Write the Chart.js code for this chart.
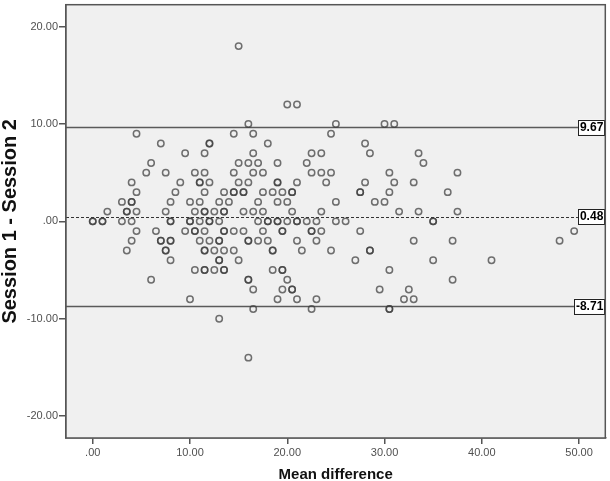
<!DOCTYPE html>
<html>
<head>
<meta charset="utf-8">
<script src="https://cdn.jsdelivr.net/npm/chart.js@4/dist/chart.umd.min.js"></script>
<style>
  html, body { margin: 0; padding: 0; background: #ffffff; }
  #wrap { width: 610px; height: 481px; position: relative; }
</style>
</head>
<body>
<div id="wrap"><canvas id="c" width="610" height="481"></canvas></div>
<script>
// ---- Data ----
const meanDifference = [
  15,
  20, 21,
  16, 25, 30, 31,
  4.5, 14.5, 16.5, 24.5,
  7, 12, 12, 18, 28,
  9.5, 11.5, 16.5, 22.5, 23.5, 28.5, 33.5,
  6, 15, 16, 17, 19, 22, 34,
  5.5, 7.5, 10.5, 11.5, 14.5, 16.5, 17.5, 22.5, 23.5, 24.5, 30.5, 37.5,
  4, 9, 11, 11, 12, 15, 16, 19, 19, 21, 24, 28, 31, 33,
  4.5, 8.5, 11.5, 13.5, 14.5, 14.5, 15.5, 15.5, 17.5, 18.5, 19.5, 20.5, 20.5, 27.5, 27.5, 30.5, 36.5,
  3, 4, 4, 8, 10, 11, 13, 14, 17, 19, 20, 25, 29, 30,
  1.5, 3.5, 3.5, 4.5, 7.5, 10.5, 11.5, 11.5, 12.5, 13.5, 13.5, 15.5, 16.5, 17.5, 20.5, 23.5, 31.5, 33.5, 37.5,
  0, 0, 1, 1, 3, 4, 8, 8, 10, 10, 11, 12, 12, 13, 17, 18, 18, 19, 19, 20, 21, 21, 22, 23, 25, 26, 35, 35,
  4.5, 6.5, 9.5, 10.5, 10.5, 11.5, 13.5, 13.5, 14.5, 15.5, 17.5, 19.5, 19.5, 22.5, 22.5, 23.5, 27.5, 49.5,
  4, 7, 7, 8, 8, 11, 12, 13, 13, 16, 16, 17, 18, 21, 23, 33, 37, 48,
  3.5, 7.5, 7.5, 11.5, 11.5, 12.5, 13.5, 14.5, 18.5, 18.5, 21.5, 24.5, 28.5, 28.5,
  8, 13, 13, 15, 27, 35, 41,
  10.5, 11.5, 11.5, 12.5, 13.5, 13.5, 18.5, 19.5, 19.5, 30.5,
  6, 16, 16, 20, 37,
  16.5, 19.5, 20.5, 20.5, 29.5, 32.5,
  10, 19, 21, 23, 32, 33,
  16.5, 22.5, 30.5, 30.5,
  13,
  16
];
const sessionDifference = [
  18,
  12, 12,
  10, 10, 10, 10,
  9, 9, 9, 9,
  8, 8, 8, 8, 8,
  7, 7, 7, 7, 7, 7, 7,
  6, 6, 6, 6, 6, 6, 6,
  5, 5, 5, 5, 5, 5, 5, 5, 5, 5, 5, 5,
  4, 4, 4, 4, 4, 4, 4, 4, 4, 4, 4, 4, 4, 4,
  3, 3, 3, 3, 3, 3, 3, 3, 3, 3, 3, 3, 3, 3, 3, 3, 3,
  2, 2, 2, 2, 2, 2, 2, 2, 2, 2, 2, 2, 2, 2,
  1, 1, 1, 1, 1, 1, 1, 1, 1, 1, 1, 1, 1, 1, 1, 1, 1, 1, 1,
  0, 0, 0, 0, 0, 0, 0, 0, 0, 0, 0, 0, 0, 0, 0, 0, 0, 0, 0, 0, 0, 0, 0, 0, 0, 0, 0, 0,
  -1, -1, -1, -1, -1, -1, -1, -1, -1, -1, -1, -1, -1, -1, -1, -1, -1, -1,
  -2, -2, -2, -2, -2, -2, -2, -2, -2, -2, -2, -2, -2, -2, -2, -2, -2, -2,
  -3, -3, -3, -3, -3, -3, -3, -3, -3, -3, -3, -3, -3, -3,
  -4, -4, -4, -4, -4, -4, -4,
  -5, -5, -5, -5, -5, -5, -5, -5, -5, -5,
  -6, -6, -6, -6, -6,
  -7, -7, -7, -7, -7, -7,
  -8, -8, -8, -8, -8, -8,
  -9, -9, -9, -9,
  -10,
  -14
];
const limitValues = [9.67, 0.48, -8.71];
const limitLabels = ['9.67', '0.48', '-8.71'];
const limitDashed = [false, true, false];
const xTickValues = [0, 10, 20, 30, 40, 50];
const yTickValues = [-20, -10, 0, 10, 20];

// ---- helpers ----
function fmt(v) {
  if (v === 0) return '.00';
  return v.toFixed(2);
}

const points = meanDifference.map((x, i) => ({ x: x, y: sessionDifference[i] }));

const framePlugin = {
  id: 'frame',
  beforeDatasetsDraw(chart) {
    const { ctx, chartArea: a, scales } = chart;
    ctx.save();
    ctx.fillStyle = '#f0f0f0';
    ctx.fillRect(a.left, a.top, a.right - a.left, a.bottom - a.top);
    limitValues.forEach((v, i) => {
      const y = Math.round(scales.y.getPixelForValue(v)) + 0.5;
      ctx.beginPath();
      if (limitDashed[i]) {
        ctx.setLineDash([3, 2]);
        ctx.strokeStyle = '#333333';
        ctx.lineWidth = 1;
      } else {
        ctx.setLineDash([]);
        ctx.strokeStyle = '#5a5a5a';
        ctx.lineWidth = 1.5;
      }
      ctx.moveTo(a.left, y);
      ctx.lineTo(a.right, y);
      ctx.stroke();
    });
    ctx.restore();
  },
  afterDatasetsDraw(chart) {
    const { ctx, chartArea: a, scales } = chart;
    ctx.save();
    ctx.setLineDash([]);
    ctx.font = 'bold 12px "Liberation Sans", Arial, sans-serif';
    ctx.textBaseline = 'middle';
    ctx.textAlign = 'right';
    limitValues.forEach((v, i) => {
      const y = scales.y.getPixelForValue(v);
      const w = ctx.measureText(limitLabels[i]).width + 3;
      const h = 15;
      const x1 = a.right - 1;
      ctx.fillStyle = '#ffffff';
      ctx.fillRect(x1 - w, y - h / 2, w, h);
      ctx.strokeStyle = '#222222';
      ctx.lineWidth = 1;
      ctx.strokeRect(Math.round(x1 - w) + 0.5, Math.round(y - h / 2) + 0.5, Math.round(w), h);
      ctx.fillStyle = '#000000';
      ctx.fillText(limitLabels[i], x1 - 1, y + 0.5);
    });
    // plot frame
    ctx.strokeStyle = '#555555';
    ctx.lineWidth = 1.5;
    ctx.strokeRect(a.left, a.top, a.right - a.left, a.bottom - a.top);
    ctx.restore();
  }
};

new Chart(document.getElementById('c'), {
  type: 'scatter',
  data: {
    datasets: [{
      data: points,
      pointRadius: 3.2,
      pointBorderWidth: 1.5,
      pointBackgroundColor: 'rgba(0,0,0,0)',
      pointBorderColor: 'rgba(60,60,60,0.72)',
      pointHoverRadius: 3.2
    }]
  },
  options: {
    responsive: false,
    animation: false,
    devicePixelRatio: 1,
    layout: { padding: { top: 3, right: 3, left: 0, bottom: 0 } },
    plugins: { legend: { display: false }, tooltip: { enabled: false } },
    scales: {
      x: {
        type: 'linear',
        min: -2.75,
        max: 52.7,
        afterBuildTicks(scale) { scale.ticks = xTickValues.map(v => ({ value: v })); },
        afterFit(scale) {
          scale.height = 43;
          scale.paddingLeft = 0; scale.paddingRight = 0;
          scale.paddingTop = 0; scale.paddingBottom = 0;
        },
        border: { display: true, color: '#555555', width: 1.5 },
        grid: { drawOnChartArea: false, drawTicks: true, tickLength: 6, color: '#555555', lineWidth: 1.5 },
        ticks: {
          padding: 2,
          maxRotation: 0,
          color: '#505050',
          font: { family: '"Liberation Sans", Arial, sans-serif', size: 11 },
          callback: (v) => fmt(v)
        },
        title: {
          display: true,
          text: 'Mean difference',
          color: '#111111',
          padding: { top: 0, bottom: -3 },
          font: { family: '"Liberation Sans", Arial, sans-serif', size: 15, weight: 'bold' }
        }
      },
      y: {
        type: 'linear',
        min: -22.25,
        max: 22.25,
        afterBuildTicks(scale) { scale.ticks = yTickValues.map(v => ({ value: v })); },
        afterFit(scale) {
          scale.width = 66;
          scale.paddingTop = 0; scale.paddingBottom = 0;
          scale.paddingLeft = 0; scale.paddingRight = 0;
        },
        border: { display: true, color: '#555555', width: 1.5 },
        grid: { drawOnChartArea: false, drawTicks: true, tickLength: 7, color: '#555555', lineWidth: 1.5 },
        ticks: {
          padding: 1,
          color: '#505050',
          font: { family: '"Liberation Sans", Arial, sans-serif', size: 11 },
          callback: (v) => fmt(v)
        },
        title: {
          display: true,
          text: 'Session 1 - Session 2',
          color: '#111111',
          padding: { top: -2, bottom: 0 },
          font: { family: '"Liberation Sans", Arial, sans-serif', size: 20, weight: 'bold' }
        }
      }
    }
  },
  plugins: [framePlugin]
});
</script>
</body>
</html>
